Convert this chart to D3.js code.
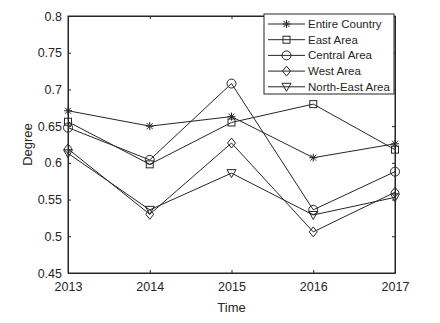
<!DOCTYPE html>
<html>
<head>
<meta charset="utf-8">
<script src="https://cdn.jsdelivr.net/npm/d3@7"></script>
<style>
body { margin: 0; background: #fff; }
text { font-family: "Liberation Sans", Arial, sans-serif; fill: #262626; }
</style>
</head>
<body>
<div id="chart"></div>
<script>
// data
var years = [2013, 2014, 2015, 2016, 2017];
var seriesNames = ["Entire Country", "East Area", "Central Area", "West Area", "North-East Area"];
var entireCountry = [0.671, 0.650, 0.663, 0.607, 0.626];
var eastArea = [0.656, 0.598, 0.655, 0.680, 0.618];
var centralArea = [0.648, 0.604, 0.708, 0.536, 0.588];
var westArea = [0.619, 0.530, 0.627, 0.506, 0.560];
var northEastArea = [0.613, 0.536, 0.586, 0.529, 0.553];
var yTicks = [0.45, 0.5, 0.55, 0.6, 0.65, 0.7, 0.75, 0.8];

var allSeries = [entireCountry, eastArea, centralArea, westArea, northEastArea];
var markers = ["star", "square", "circle", "diamond", "triangle"];

var svgWidth = 440;
var svgHeight = 323;
var margin = {top: 16, right: 45, bottom: 50, left: 68};
var width = svgWidth - margin.left - margin.right;
var height = svgHeight - margin.top - margin.bottom;
var ink = "#262626";

var svg = d3.select("#chart")
    .append("svg")
    .attr("width", svgWidth)
    .attr("height", svgHeight);

var chartGroup = svg.append("g")
    .attr("transform", `translate(${margin.left}, ${margin.top})`);

var x = d3.scaleLinear().domain([2013, 2017]).range([0, width]);
var y = d3.scaleLinear().domain([0.45, 0.8]).range([height, 0]);

// box
chartGroup.append("rect")
    .attr("width", width)
    .attr("height", height)
    .attr("fill", "none")
    .attr("stroke", ink)
    .attr("stroke-width", 1);

// axes, ticks inside
var bottomAxis = d3.axisBottom(x).tickValues(years).tickFormat(d3.format("d")).tickSizeInner(-3).tickSizeOuter(0).tickPadding(9);
var leftAxis = d3.axisLeft(y).tickValues(yTicks).tickFormat(d => String(+d.toFixed(2))).tickSizeInner(-3).tickSizeOuter(0).tickPadding(6);
var topAxis = d3.axisTop(x).tickValues(years).tickSizeInner(-3).tickSizeOuter(0).tickFormat("");
var rightAxis = d3.axisRight(y).tickValues(yTicks).tickSizeInner(-3).tickSizeOuter(0).tickFormat("");

function styleAxis(g) {
    g.select(".domain").attr("stroke", ink);
    g.selectAll(".tick line").attr("stroke", ink);
    g.selectAll(".tick text").attr("fill", ink).style("font-size", "12.5px")
        .style("font-family", "'Liberation Sans', Arial, sans-serif");
}

chartGroup.append("g").attr("transform", `translate(0, ${height})`).call(bottomAxis).call(styleAxis);
chartGroup.append("g").call(leftAxis).call(styleAxis);
chartGroup.append("g").call(topAxis).call(styleAxis);
chartGroup.append("g").attr("transform", `translate(${width}, 0)`).call(rightAxis).call(styleAxis);

// axis labels
chartGroup.append("text")
    .attr("x", width / 2)
    .attr("y", height + 39)
    .attr("text-anchor", "middle")
    .style("font-size", "13px")
    .text("Time");

chartGroup.append("text")
    .attr("transform", "rotate(-90)")
    .attr("x", -height / 2)
    .attr("y", -36)
    .attr("text-anchor", "middle")
    .style("font-size", "13px")
    .text("Degree");

// marker drawing
function drawMarker(g, type, cx, cy) {
    var s = 4;
    if (type === "star") {
        var p = g.append("g").attr("transform", `translate(${cx},${cy})`);
        [[-s, 0, s, 0], [0, -s, 0, s], [-3, -3, 3, 3], [-3, 3, 3, -3]].forEach(function(l) {
            p.append("line").attr("x1", l[0]).attr("y1", l[1]).attr("x2", l[2]).attr("y2", l[3])
                .attr("stroke", ink).attr("stroke-width", 1);
        });
    } else if (type === "square") {
        g.append("rect").attr("x", cx - 3.5).attr("y", cy - 3.5).attr("width", 7).attr("height", 7)
            .attr("fill", "none").attr("stroke", ink);
    } else if (type === "circle") {
        g.append("circle").attr("cx", cx).attr("cy", cy).attr("r", 4.5)
            .attr("fill", "none").attr("stroke", ink);
    } else if (type === "diamond") {
        g.append("path").attr("d", `M${cx},${cy - 5}L${cx + 4},${cy}L${cx},${cy + 5}L${cx - 4},${cy}Z`)
            .attr("fill", "none").attr("stroke", ink);
    } else {
        g.append("path").attr("d", `M${cx - 4.5},${cy - 3.5}L${cx + 4.5},${cy - 3.5}L${cx},${cy + 4.5}Z`)
            .attr("fill", "none").attr("stroke", ink);
    }
}

var line = d3.line()
    .x((d, i) => x(years[i]))
    .y(d => y(d));

allSeries.forEach(function(values, k) {
    chartGroup.append("path")
        .datum(values)
        .attr("d", line)
        .attr("fill", "none")
        .attr("stroke", ink)
        .attr("stroke-width", 1);
    var mg = chartGroup.append("g");
    values.forEach(function(v, i) {
        drawMarker(mg, markers[k], x(years[i]), y(v));
    });
});

// legend
var legend = svg.append("g").attr("transform", "translate(264, 14)");
legend.append("rect")
    .attr("width", 130)
    .attr("height", 80)
    .attr("fill", "#fff")
    .attr("stroke", ink);

seriesNames.forEach(function(name, k) {
    var ly = 10 + k * 15.7;
    legend.append("line")
        .attr("x1", 4).attr("x2", 41)
        .attr("y1", ly).attr("y2", ly)
        .attr("stroke", ink);
    drawMarker(legend, markers[k], 22.5, ly);
    legend.append("text")
        .attr("x", 44)
        .attr("y", ly)
        .attr("dy", "0.35em")
        .style("font-size", "11.5px")
        .text(name);
});
</script>
</body>
</html>
